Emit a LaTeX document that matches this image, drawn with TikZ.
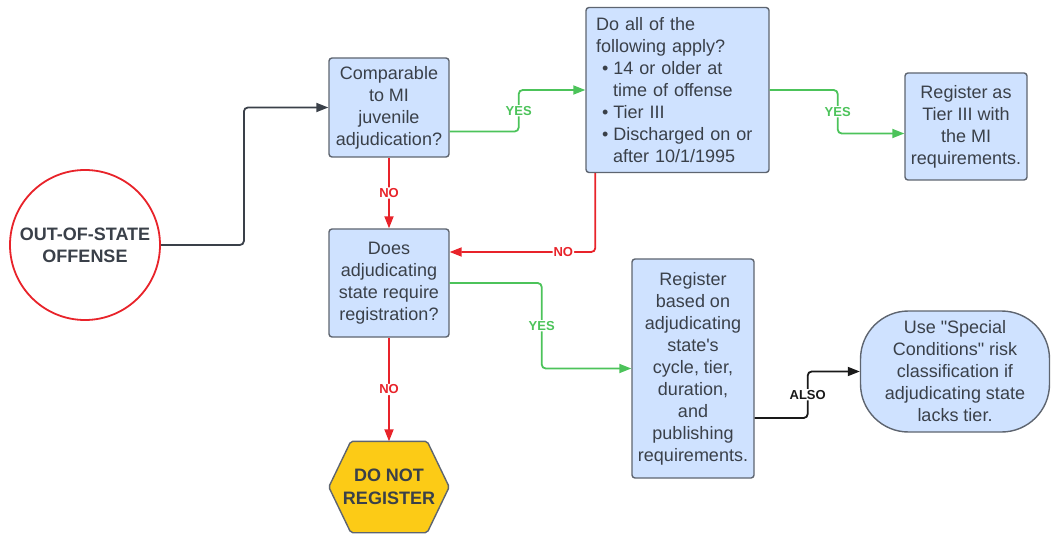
\documentclass[tikz,border=0pt]{standalone}
\usepackage{fontspec}
\setmainfont{Liberation Sans}
\usetikzlibrary{arrows.meta}
\usetikzlibrary{backgrounds}

\definecolor{boxblue}{HTML}{CFE2FF}
\definecolor{boxedge}{HTML}{5E6570}
\definecolor{inkgray}{HTML}{3A4049}
\definecolor{yesgreen}{HTML}{4CC35A}
\definecolor{nored}{HTML}{E8232A}
\definecolor{stopgold}{HTML}{FCCB16}

\tikzset{
  flowbox/.style={draw=boxedge, fill=boxblue, line width=1.4pt, rounded corners=3pt, text=inkgray, align=center, font=\fontsize{18}{22}\selectfont, inner sep=0pt},
  link/.style={line width=1.8pt, rounded corners=4pt, ->, >={Triangle[length=12pt,width=9pt]}},
  yesline/.style={link, yesgreen},
  noline/.style={link, nored},
  tag/.style={fill=white, inner sep=1pt, font=\bfseries\fontsize{13}{13}\selectfont},
}

\begin{document}
\begin{tikzpicture}[x=1pt, y=-1pt]
\useasboundingbox (0,0) rectangle (1051,534);
\node[circle, draw=nored, line width=1.8pt, fill=white, minimum size=150pt, inner sep=0pt, text=inkgray, align=center, font=\bfseries\fontsize{18}{22}\selectfont] (start) at (85,245) {OUT-OF-STATE\\OFFENSE};
\node[flowbox, minimum width=120pt, minimum height=99pt] (cmp) at (389,107.5) {Comparable\\to MI\\juvenile\\adjudication?};
\node[flowbox, minimum width=120pt, minimum height=108pt] (reg) at (389,283) {Does\\adjudicating\\state require\\registration?};
\node[flowbox, minimum width=183pt, minimum height=165pt, text width=163pt, inner xsep=10pt, align=left] (all) at (677.5,90) {Do all of the\\following apply?\\
\hspace*{6pt}\textbullet\hspace{5pt}14 or older at\\\hspace*{17pt}time of offense\\
\hspace*{6pt}\textbullet\hspace{5pt}Tier III\\
\hspace*{6pt}\textbullet\hspace{5pt}Discharged on or\\\hspace*{17pt}after 10/1/1995};
\node[flowbox, minimum width=122pt, minimum height=107pt] (mi) at (966,126.5) {Register as\\Tier III with\\the MI\\requirements.};
\node[flowbox, minimum width=122pt, minimum height=219pt] (based) at (693,368.5) {Register\\based on\\adjudicating\\state\textquotesingle s\\cycle, tier,\\duration,\\and\\publishing\\requirements.};
\node[flowbox, minimum width=189pt, minimum height=121pt, rounded corners=48pt] (special) at (955,371.5) {Use \textquotedbl Special\\Conditions\textquotedbl\ risk\\classification if\\adjudicating state\\lacks tier.};
\node[minimum width=120pt, minimum height=91pt, text=inkgray, align=center, font=\bfseries\fontsize{18}{23}\selectfont] (stop) at (389,487) {DO NOT\\REGISTER};
\begin{scope}[on background layer]
\draw[draw=boxedge, fill=stopgold, line width=1.4pt, rounded corners=2pt] (stop.west) -- ([xshift=22pt]stop.north west) -- ([xshift=-22pt]stop.north east) -- (stop.east) -- ([xshift=-22pt]stop.south east) -- ([xshift=22pt]stop.south west) -- cycle;
\end{scope}
% connectors
\draw[link, inkgray] (start.east) -- ++(83,0) |- (cmp.west);
\draw[yesline] ([yshift=-24pt]cmp.east) -- ++(69,0) |- node[tag, pos=.25]{YES} (all.west);
\draw[noline] (cmp) -- node[tag]{NO} (reg);
\draw[noline] ([xshift=10pt]all.south west) |- node[tag, pos=.61]{NO} ([yshift=31pt]reg.east);
\draw[yesline] (all.east) -- ++(68,0) |- node[tag, pos=.25]{YES} ([yshift=-7pt]mi.west);
\draw[yesline] (reg.east) -- ++(92,0) |- node[tag, pos=.25]{YES} (based.west);
\draw[noline] (reg) -- node[tag]{NO} (stop);
\draw[link, black!90] ([yshift=-49.5pt]based.east) -- ++(53,0) |- node[tag, pos=.25]{ALSO} (special.west);
\end{tikzpicture}
\end{document}
